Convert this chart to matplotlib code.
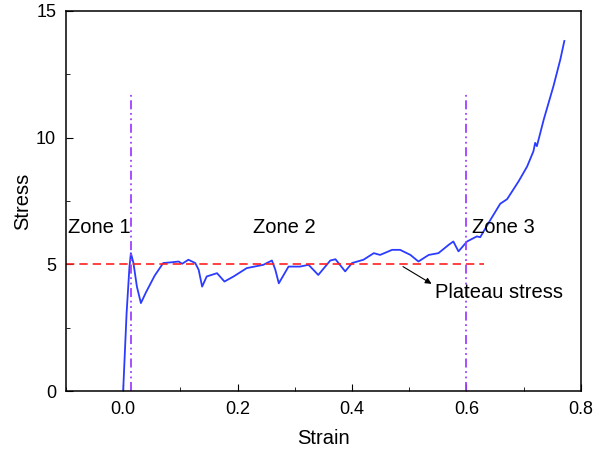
import matplotlib
matplotlib.use("Agg")
import matplotlib.pyplot as plt
from matplotlib.ticker import MultipleLocator, FormatStrFormatter

plt.rcParams['font.family'] = ['Liberation Sans', 'DejaVu Sans']

# stress-strain curve
strain = [0.0, 0.006, 0.011, 0.0135, 0.018, 0.024, 0.031, 0.04, 0.055, 0.070, 0.085, 0.097, 0.103,
          0.114, 0.126, 0.132, 0.138, 0.146, 0.164, 0.177, 0.193, 0.216, 0.245,
          0.260, 0.266, 0.272, 0.289, 0.309, 0.324, 0.341, 0.362, 0.371, 0.388,
          0.400, 0.420, 0.438, 0.449, 0.470, 0.484, 0.502, 0.516, 0.534, 0.551,
          0.569, 0.577, 0.586, 0.601, 0.618, 0.624, 0.642, 0.659, 0.671, 0.691,
          0.706, 0.717, 0.720, 0.723, 0.735, 0.752, 0.764, 0.771]
stress = [0.0, 3.07, 4.9, 5.44, 5.05, 4.12, 3.47, 3.9, 4.55, 5.05, 5.08, 5.11, 5.02,
          5.18, 5.05, 4.78, 4.12, 4.52, 4.65, 4.32, 4.52, 4.85, 4.98,
          5.15, 4.78, 4.25, 4.91, 4.91, 4.98, 4.58, 5.15, 5.2, 4.72,
          5.05, 5.18, 5.44, 5.37, 5.57, 5.57, 5.37, 5.11, 5.37, 5.44,
          5.77, 5.90, 5.51, 5.90, 6.10, 6.07, 6.76, 7.39, 7.57, 8.27,
          8.86, 9.46, 9.79, 9.66, 10.71, 12.03, 13.08, 13.81]

plateau = 5.0
zone_bounds = [0.013, 0.6]

fig = plt.figure(figsize=(5.94, 4.5), dpi=100)
ax = fig.add_axes([0.111, 0.131, 0.867, 0.845])

ax.plot(strain, stress, color='#2b3cff', lw=1.3)
ax.plot([-0.1, 0.63], [plateau, plateau], color='#ff2020', ls=(0, (5, 3)), lw=1.2)
for xb in zone_bounds:
    ax.plot([xb, xb], [0, 11.8], color='#a040ff', ls=(0, (5, 2, 1, 2, 1, 2)), lw=1.3)

ax.text(-0.096, 6.45, 'Zone 1', fontsize=14.5, va='center')
ax.text(0.227, 6.45, 'Zone 2', fontsize=14.5, va='center')
ax.text(0.61, 6.45, 'Zone 3', fontsize=14.5, va='center')
ax.text(0.545, 3.9, 'Plateau stress', fontsize=14.5, va='center')
ax.annotate('', xy=(0.539, 4.23), xytext=(0.489, 4.91),
            arrowprops=dict(arrowstyle='-|>', color='black', lw=0.8,
                            mutation_scale=9, shrinkA=0, shrinkB=0))

ax.set_xlim(-0.1, 0.8)
ax.set_ylim(0, 15)
ax.xaxis.set_major_locator(MultipleLocator(0.2))
ax.xaxis.set_minor_locator(MultipleLocator(0.1))
ax.xaxis.set_major_formatter(FormatStrFormatter('%.1f'))
ax.yaxis.set_major_locator(MultipleLocator(5))
ax.yaxis.set_minor_locator(MultipleLocator(2.5))
ax.tick_params(which='both', direction='in', labelsize=13)
ax.tick_params(which='major', length=5, pad=7)
ax.tick_params(which='minor', length=3)
for s in ax.spines.values():
    s.set_linewidth(1.1)
ax.set_xlabel('Strain', fontsize=14.5, labelpad=8)
ax.set_ylabel('Stress', fontsize=14.5, labelpad=3)

fig.savefig('out.png', dpi=100)
